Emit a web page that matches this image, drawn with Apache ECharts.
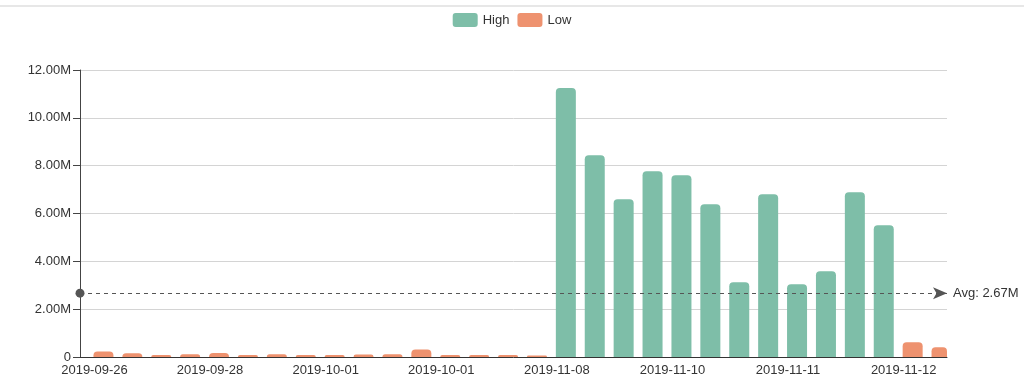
<!DOCTYPE html>
<html><head><meta charset="utf-8">
<script src="https://cdn.jsdelivr.net/npm/echarts@6/dist/echarts.min.js"></script>
<style>html,body{margin:0;padding:0;background:#fff}#c{width:1024px;height:390px}</style>
</head><body><div id="c"></div>
<script>
const categories = [
 '2019-09-26','2019-09-26','2019-09-27','2019-09-27','2019-09-28','2019-09-28','2019-09-29','2019-09-30',
 '2019-10-01','2019-10-01','2019-10-01','2019-10-01','2019-10-01','2019-10-01','2019-10-01','2019-11-07',
 '2019-11-08','2019-11-08','2019-11-09','2019-11-09','2019-11-10','2019-11-10','2019-11-10','2019-11-11',
 '2019-11-11','2019-11-11','2019-11-11','2019-11-12','2019-11-12','2019-11-12'
];
const highValues = [
 null,null,null,null,null,null,null,null,null,null,null,null,null,null,null,null,
 11250000,8440000,6600000,7770000,7600000,6390000,3130000,6810000,3040000,3590000,6890000,5510000,
 null,null
];
const lowValues = [
 230000,155000,80000,110000,170000,80000,110000,80000,80000,100000,110000,310000,80000,80000,80000,60000,
 null,null,null,null,null,null,null,null,null,null,null,null,
 620000,410000
];
const avgValue = 2670000;
const yTicks = [0,2000000,4000000,6000000,8000000,10000000,12000000];

const fmtM = v => v === 0 ? '0' : (v/1e6).toFixed(2) + 'M';
const chart = echarts.init(document.getElementById('c'));
chart.setOption({
  animation:false,
  textStyle:{fontFamily:'"Liberation Sans", Arial, sans-serif'},
  graphic:[{type:'line',shape:{x1:0,y1:6,x2:1024,y2:6},style:{stroke:'#cfcfcf',lineWidth:1}}],
  legend:{
    top:8, left:'center', itemWidth:25, itemHeight:14, itemGap:8,
    data:['High','Low'],
    textStyle:{color:'#333',fontSize:13},
    icon:'path://M3,0 L22,0 Q25,0 25,3 L25,11 Q25,14 22,14 L3,14 Q0,14 0,11 L0,3 Q0,0 3,0 Z'
  },
  grid:{left:80,right:77,top:70,bottom:33},
  xAxis:{
    type:'category', data:categories, boundaryGap:true,
    axisLine:{lineStyle:{color:'#333'}},
    axisTick:{alignWithLabel:true, interval:(i)=> i%4===2, lineStyle:{color:'#333'}, length:5},
    axisLabel:{interval:3, color:'#333', fontSize:13, margin:7}
  },
  yAxis:{
    type:'value', min:yTicks[0], max:yTicks[yTicks.length-1], interval:2000000,
    axisLine:{show:true,lineStyle:{color:'#444'}},
    axisTick:{show:true,length:7,lineStyle:{color:'#444'}},
    axisLabel:{formatter:fmtM,color:'#333',fontSize:13,margin:9},
    splitLine:{lineStyle:{color:'#d4d4d4'}}
  },
  series:[
    {name:'_pad', type:'bar', data:[], barWidth:20, barGap:'-10%'},
    {name:'High', type:'bar', stack:'s', data:highValues, barWidth:20, barGap:'-10%',
     itemStyle:{color:'#7ebea8', borderRadius:[4,4,0,0]},
     markLine:{
       silent:true, symbol:['circle','arrow'], symbolSize:[9,14],
       lineStyle:{color:'#555',type:[4,4],width:1},
       label:{formatter:'Avg: ' + (avgValue/1e6).toFixed(2) + 'M', color:'#333', fontSize:13, position:'end', distance:6},
       data:[{yAxis:avgValue}]
     }},
    {name:'Low', type:'bar', stack:'s', data:lowValues, barWidth:20, barGap:'-10%',
     itemStyle:{color:'#ee926f', borderRadius:[4,4,0,0]}}
  ]
});
</script></body></html>
